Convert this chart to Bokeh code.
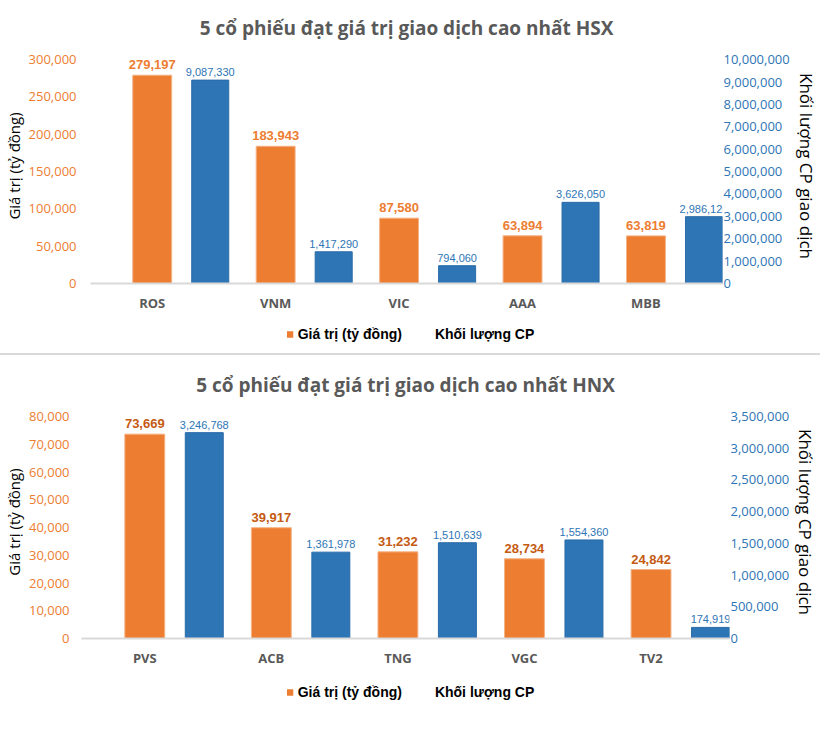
import numpy as np
from bokeh.plotting import figure
from bokeh.models import (LinearAxis, Range1d, FixedTicker, NumeralTickFormatter,
                          Legend, LegendItem, Div, ColumnDataSource)
from bokeh.layouts import column, row
from bokeh.core.properties import value
from bokeh.embed import file_html
from bokeh.resources import INLINE

# ---------------- data ----------------
hsx_title = "5 cổ phiếu đạt giá trị giao dịch cao nhất HSX"
hsx_tickers = ["ROS", "VNM", "VIC", "AAA", "MBB"]
hsx_value = [279197, 183943, 87580, 63894, 63819]          # Giá trị (tỷ đồng)
hsx_volume = [9087330, 1417290, 794060, 3626050, 2986120]  # Khối lượng CP
hsx_left_ticks = [0, 50000, 100000, 150000, 200000, 250000, 300000]
hsx_right_ticks = [0, 1000000, 2000000, 3000000, 4000000, 5000000,
                   6000000, 7000000, 8000000, 9000000, 10000000]

hnx_title = "5 cổ phiếu đạt giá trị giao dịch cao nhất HNX"
hnx_tickers = ["PVS", "ACB", "TNG", "VGC", "TV2"]
hnx_value = [73669, 39917, 31232, 28734, 24842]
hnx_volume = [3246768, 1361978, 1510639, 1554360, 174919]
hnx_left_ticks = [0, 10000, 20000, 30000, 40000, 50000, 60000, 70000, 80000]
hnx_right_ticks = [0, 500000, 1000000, 1500000, 2000000, 2500000, 3000000, 3500000]

value_label = "Giá trị (tỷ đồng)"
volume_label = "Khối lượng CP"
left_axis_label = "Giá trị (tỷ đồng)"
right_axis_label = "Khối lượng CP giao dịch"

ORANGE = "#ED7D31"
BLUE = "#2E75B6"
GREY = "#595959"
LABEL_FONT = "Liberation Sans"
W = 820


def panel(title, tickers, vals, vols, lticks, rticks, height,
          border_left, border_right, border_top, border_bottom,
          val_label_color, left_standoff):
    n = len(tickers)
    xs = np.arange(n) + 0.5
    lmax = lticks[-1] * 1.05
    rmax = rticks[-1] * 1.05
    p = figure(width=W, height=height, output_backend="svg", toolbar_location=None,
               x_range=Range1d(0, 5.12), y_range=Range1d(0, lmax),
               min_border_left=border_left, min_border_right=border_right,
               min_border_top=border_top, min_border_bottom=border_bottom,
               outline_line_color=None, background_fill_color="white",
               border_fill_color="white")
    p.extra_y_ranges = {"vol": Range1d(0, rmax)}
    p.xgrid.visible = False
    p.ygrid.visible = False

    p.title.text = title
    p.title.align = "center"
    p.title.text_font = "Open Sans"
    p.title.text_font_size = "19px"
    p.title.text_font_style = "bold"
    p.title.text_color = GREY
    p.title.standoff = 15

    src = ColumnDataSource(dict(
        x=xs, xb=xs + 0.47, val=vals, vol=vols,
        val_txt=[f"{v:,}" for v in vals], vol_txt=[f"{v:,}" for v in vols]))

    p.vbar(x="x", top="val", width=0.315, source=src, fill_color=ORANGE,
           line_color="#F4B183", line_width=1)
    p.vbar(x="xb", top="vol", width=0.30, source=src, fill_color=BLUE,
           line_color="#2A6BA8", line_width=1, y_range_name="vol")
    p.text(x="x", y="val", text="val_txt", source=src, text_align="center",
           text_baseline="bottom", y_offset=-6, text_font=value(LABEL_FONT),
           text_font_size="13px", text_font_style="bold", text_color=val_label_color)
    p.text(x="xb", y="vol", text="vol_txt", source=src, text_align="center",
           text_baseline="bottom", y_offset=-4, text_font=value(LABEL_FONT),
           text_font_size="11px", text_color=BLUE, y_range_name="vol")

    # x axis
    xa = p.xaxis[0]
    xa.ticker = FixedTicker(ticks=list(xs))
    xa.major_label_overrides = {float(x): tk for x, tk in zip(xs, tickers)}
    xa.major_label_text_font = "Open Sans"
    xa.major_label_text_font_size = "13px"
    xa.major_label_text_font_style = "bold"
    xa.major_label_text_color = GREY
    xa.major_label_standoff = 10
    xa.axis_line_color = "#D9D9D9"
    xa.axis_line_width = 2
    xa.major_tick_line_color = None
    xa.minor_tick_line_color = None
    xa.major_tick_in = 0
    xa.major_tick_out = 0

    # left axis
    ya = p.yaxis[0]
    ya.ticker = FixedTicker(ticks=lticks)
    ya.formatter = NumeralTickFormatter(format="0,0")
    ya.major_label_text_font = "Open Sans"
    ya.major_label_text_font_size = "13px"
    ya.major_label_text_color = ORANGE
    ya.major_label_standoff = left_standoff
    ya.axis_line_color = None
    ya.major_tick_line_color = None
    ya.minor_tick_line_color = None
    ya.major_tick_in = 0
    ya.major_tick_out = 0
    ya.axis_label = left_axis_label
    ya.axis_label_text_font = "Open Sans"
    ya.axis_label_text_font_size = "15px"
    ya.axis_label_text_font_style = "normal"
    ya.axis_label_text_color = "black"
    ya.axis_label_standoff = 2

    # right axis
    ra = LinearAxis(y_range_name="vol", ticker=FixedTicker(ticks=rticks),
                    formatter=NumeralTickFormatter(format="0,0"))
    ra.major_label_text_font = "Open Sans"
    ra.major_label_text_font_size = "13px"
    ra.major_label_text_color = BLUE
    ra.major_label_standoff = 1
    ra.axis_line_color = None
    ra.major_tick_line_color = None
    ra.minor_tick_line_color = None
    ra.major_tick_in = 0
    ra.major_tick_out = 0
    ra.axis_label = right_axis_label
    ra.axis_label_text_font = "Open Sans"
    ra.axis_label_text_font_size = "17px"
    ra.axis_label_text_font_style = "normal"
    ra.axis_label_text_color = "black"
    ra.axis_label_standoff = 2
    p.add_layout(ra, "right")
    return p


def legend_strip(height):
    lp = figure(width=W, height=height, output_backend="svg", toolbar_location=None,
                title=None, x_axis_type=None, y_axis_type=None,
                x_range=Range1d(0, 1), y_range=Range1d(0, 1), min_border=0,
                outline_line_color=None, background_fill_color="white",
                border_fill_color="white")
    lp.xgrid.visible = False
    lp.ygrid.visible = False
    # legend swatches only: zero-size bars, so nothing is drawn in the strip itself
    r_val = lp.vbar(x=[0.5], top=[0.5], bottom=[0.5], width=0, fill_color=ORANGE,
                    line_alpha=0)
    r_vol = lp.vbar(x=[0.5], top=[0.5], bottom=[0.5], width=0, fill_alpha=0,
                    line_alpha=0)
    legend = Legend(items=[LegendItem(label=value(value_label), renderers=[r_val]),
                           LegendItem(label=value(volume_label), renderers=[r_vol])],
                    orientation="horizontal", location="center",
                    glyph_width=8, glyph_height=8, label_standoff=4, spacing=21,
                    padding=0, margin=0, label_height=16,
                    label_text_font="Liberation Sans", label_text_font_size="14px",
                    label_text_font_style="bold", label_text_color="black",
                    background_fill_alpha=0, border_line_alpha=0)
    lp.add_layout(legend, "center")
    return lp


p1 = panel(hsx_title, hsx_tickers, hsx_value, hsx_volume, hsx_left_ticks, hsx_right_ticks,
           315, 89, 98, 48, 32, ORANGE, 14)
l1 = legend_strip(38)
sep = Div(text="", width=W, height=2, margin=(0, 0, 0, 0),
          styles={"background-color": "#D9D9D9"})
p2 = panel(hnx_title, hnx_tickers, hnx_value, hnx_volume, hnx_left_ticks, hnx_right_ticks,
           314, 80, 90, 50, 30, "#C55A11", 12)
l2 = legend_strip(46)

layout = column(row(p1), l1, sep, row(p2), l2, spacing=0)
open("out.html", "w").write(file_html(layout, INLINE))
